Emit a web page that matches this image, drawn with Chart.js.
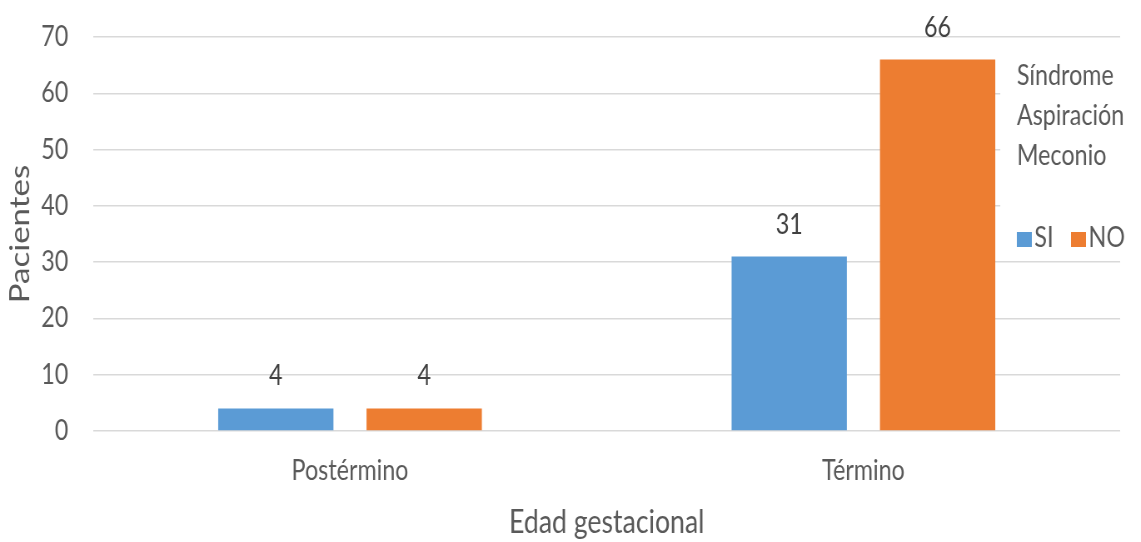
<!DOCTYPE html>
<html>
<head>
<meta charset="utf-8">
<script src="https://cdn.jsdelivr.net/npm/chart.js@4/dist/chart.umd.min.js"></script>
<style>
  html, body { margin: 0; padding: 0; background: #ffffff; overflow: hidden; }
  /* the chart is laid out wider and squeezed horizontally into 1141px */
  #wrap { width: 1370px; height: 542px; transform: scaleX(0.8328); transform-origin: 0 0; }
</style>
</head>
<body>
<div id="wrap"><canvas id="c" width="1370" height="542"></canvas></div>
<script>
// Gestational age groups and patient counts per meconium aspiration status
const categories = ['Postérmino', 'Término'];
const seriesNames = ['SI', 'NO'];
const valuesSI = [4, 31];
const valuesNO = [4, 66];
const yTicks = [0, 10, 20, 30, 40, 50, 60, 70];
const legendTitle = ['Síndrome', 'Aspiración', 'Meconio'];
const xTitle = 'Edad gestacional';
const yTitle = 'Pacientes';

const BLUE = '#5B9BD5';
const ORANGE = '#ED7D31';
const FONT = "Lato, 'Liberation Sans', sans-serif";

// Value labels above each bar
const barLabels = {
  id: 'barLabels',
  afterDatasetsDraw(chart) {
    const ctx = chart.ctx;
    ctx.save();
    ctx.font = '28px ' + FONT;
    ctx.fillStyle = '#404040';
    ctx.textAlign = 'center';
    ctx.textBaseline = 'alphabetic';
    chart.data.datasets.forEach((ds, di) => {
      const meta = chart.getDatasetMeta(di);
      meta.data.forEach((bar, i) => {
        ctx.fillText(String(ds.data[i]), bar.x, bar.y - 23);
      });
    });
    ctx.restore();
  }
};

// Legend box with a three-line title, drawn over the right side of the plot
const sideLegend = {
  id: 'sideLegend',
  afterDraw(chart) {
    const ctx = chart.ctx;
    const area = chart.chartArea;
    const x0 = area.right - 124;
    ctx.save();
    ctx.fillStyle = '#ffffff';
    ctx.fillRect(x0 - 20, 50, chart.width - x0 + 20, 204);
    ctx.font = '28px ' + FONT;
    ctx.fillStyle = '#595959';
    ctx.textAlign = 'left';
    ctx.textBaseline = 'alphabetic';
    legendTitle.forEach((line, k) => {
      ctx.fillText(line, x0, 85 + k * 40);
    });
    const items = [
      { name: seriesNames[0], color: chart.data.datasets[0].backgroundColor, x: x0 },
      { name: seriesNames[1], color: chart.data.datasets[1].backgroundColor, x: x0 + 65 }
    ];
    items.forEach(it => {
      ctx.fillStyle = it.color;
      ctx.fillRect(it.x, 232, 18, 15);
      ctx.fillStyle = '#595959';
      ctx.fillText(it.name, it.x + 21, 247);
    });
    ctx.restore();
  }
};

new Chart(document.getElementById('c'), {
  type: 'bar',
  data: {
    labels: categories,
    datasets: [
      { label: seriesNames[0], data: valuesSI, backgroundColor: BLUE,
        categoryPercentage: 0.578, barPercentage: 0.777 },
      { label: seriesNames[1], data: valuesNO, backgroundColor: ORANGE,
        categoryPercentage: 0.578, barPercentage: 0.777 }
    ]
  },
  options: {
    responsive: false,
    animation: false,
    devicePixelRatio: 1,
    layout: { padding: { top: 37, right: 25, left: 0, bottom: 0 } },
    plugins: {
      legend: { display: false },
      tooltip: { enabled: false }
    },
    scales: {
      x: {
        grid: { display: false, drawTicks: false },
        border: { display: false },
        ticks: {
          color: '#595959',
          font: { family: FONT, size: 28 },
          padding: 23
        },
        title: {
          display: true,
          text: xTitle,
          color: '#595959',
          font: { family: FONT, size: 32 },
          padding: { top: 0, bottom: 0 }
        },
        afterFit(scale) {
          scale.height = 111;
          scale.paddingLeft = 0;
          scale.paddingRight = 0;
        }
      },
      y: {
        min: 0,
        max: 70,
        afterBuildTicks(scale) { scale.ticks = yTicks.map(v => ({ value: v })); },
        grid: { color: '#D9D9D9', lineWidth: 1.5, drawTicks: false },
        border: { display: false },
        ticks: {
          color: '#595959',
          font: { family: FONT, size: 28 },
          padding: 30
        },
        title: {
          display: true,
          text: yTitle,
          color: '#595959',
          font: { family: FONT, size: 33 },
          padding: { top: 5, bottom: 0 }
        },
        afterFit(scale) {
          scale.width = 112;
          scale.paddingTop = 0;
          scale.paddingBottom = 0;
        }
      }
    }
  },
  plugins: [barLabels, sideLegend]
});
</script>
</body>
</html>
